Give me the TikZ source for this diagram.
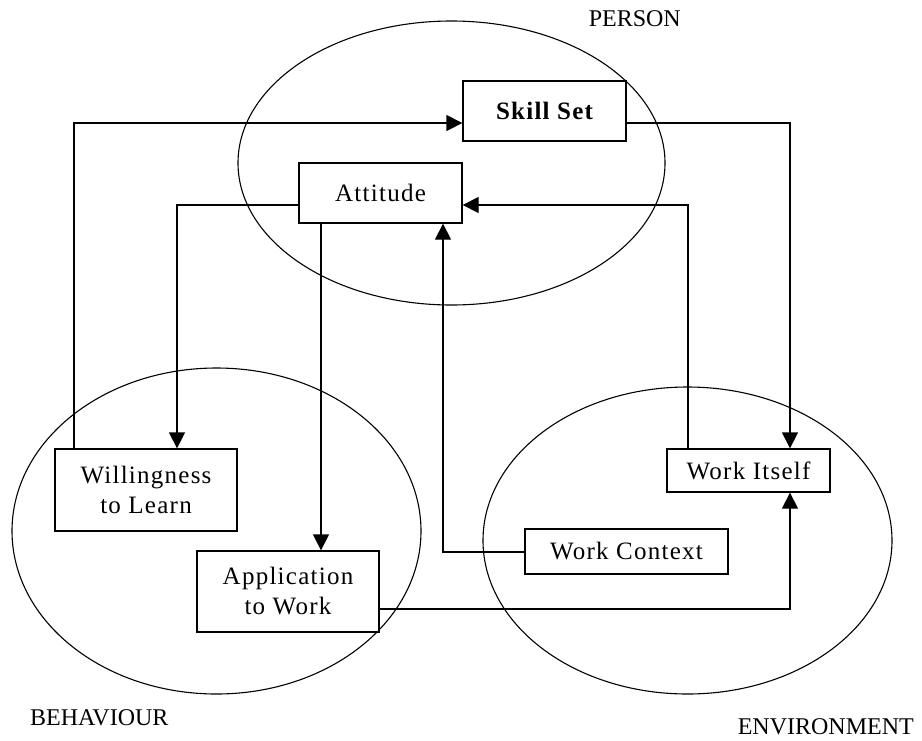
\documentclass[tikz,border=0pt]{standalone}
\usepackage{fontspec}
\setmainfont{Liberation Serif}
\newfontfamily\boxfont[LetterSpace=5]{Liberation Serif}
\usetikzlibrary{arrows.meta}
\begin{document}
\begin{tikzpicture}[x=1pt,y=-1pt,
  box/.style={draw,line width=1.3pt,fill=white,rectangle,inner sep=0pt,align=center,
    font=\boxfont\fontsize{25}{30}\selectfont},
  lab/.style={font=\fontsize{24}{28}\selectfont,inner sep=0pt},
  conn/.style={line width=1.3pt},
  arr/.style={conn,-{Triangle[length=16pt,width=16pt]}},
  ell/.style={line width=1.1pt}]
\useasboundingbox (0,0) rectangle (922,740);
% ellipses
\draw[ell] (451.5,163) ellipse [x radius=213.5, y radius=142];
\draw[ell] (216.5,531) ellipse [x radius=204.5, y radius=163];
\draw[ell] (687.5,540.5) ellipse [x radius=204.5, y radius=153.5];
% boxes
\node[box,minimum width=163pt,minimum height=60pt] (skill) at (544.5,111) {\bfseries Skill Set};
\node[box,minimum width=163pt,minimum height=60pt] (att) at (380.5,193) {Attitude};
\node[box,minimum width=182pt,minimum height=82pt] (will) at (146,490) {Willingness\\to Learn};
\node[box,minimum width=182pt,minimum height=81pt] (app) at (288,591.5) {Application\\to Work};
\node[box,minimum width=163pt,minimum height=43pt] (wi) at (748.5,470.5) {Work Itself};
\node[box,minimum width=203pt,minimum height=45pt] (wc) at (626.5,551.5) {Work Context};
% labels
\node[lab,anchor=east] (person) at (681,19) {PERSON};
\node[lab,anchor=west] (behav) at (30,718) {BEHAVIOUR};
\node[lab,anchor=east] (env) at (914,727) {ENVIRONMENT};
% bend points
\coordinate (c1) at (74,123);
\coordinate (c2) at (790,123);
\coordinate (c3) at (177,205);
\coordinate (c4) at (321,0);
\coordinate (c5) at (688,205);
\coordinate (c6) at (443,552);
\coordinate (c7) at (790,609);
% connectors
\draw[arr] (c1 |- will.north) -- (c1) -- (c1 -| skill.west);
\draw[arr] (c2 -| skill.east) -- (c2) -- (c2 |- wi.north);
\draw[arr] (c3 -| att.west) -- (c3) -- (c3 |- will.north);
\draw[arr] (c4 |- att.south) -- (c4 |- app.north);
\draw[arr] (c5 |- wi.north) -- (c5) -- (c5 -| att.east);
\draw[arr] (c6 -| wc.west) -- (c6) -- (c6 |- att.south);
\draw[arr] (c7 -| app.east) -- (c7) -- (c7 |- wi.south);
\end{tikzpicture}
\end{document}
